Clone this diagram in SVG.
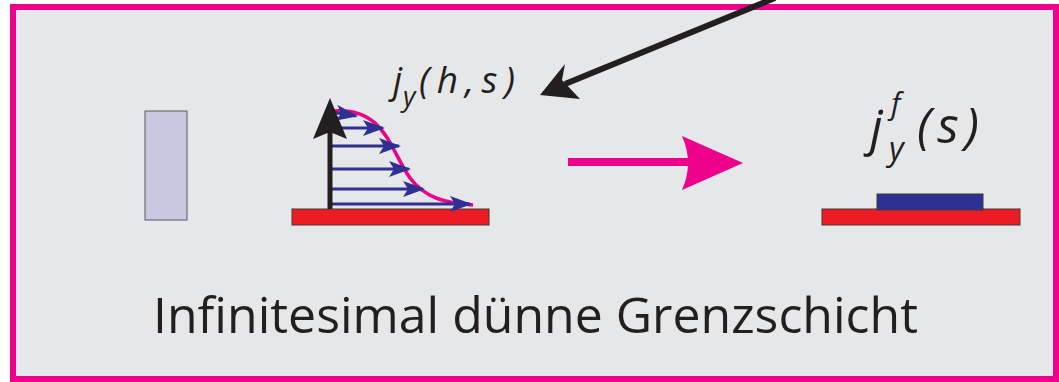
<svg xmlns="http://www.w3.org/2000/svg" width="1059" height="382" viewBox="0 0 1059 382">
<defs>
<style>
.lbl{font-family:"Open Sans","Liberation Sans",sans-serif;fill:#231f20}
.it{font-style:italic}
.plate{fill:#ed1c24;stroke:#3a3a3a;stroke-width:1}
.blue{stroke:#2e3192;stroke-width:3;fill:none}
</style>
<marker id="bh" markerUnits="userSpaceOnUse" markerWidth="22" markerHeight="16" refX="20" refY="8" orient="auto">
<path d="M0,0 L22,8 L0,16 L5,8 Z" fill="#2e3192"/>
</marker>
</defs>
<rect x="0" y="0" width="1059" height="382" fill="#ffffff"/>
<g id="frame"><rect x="13" y="7" width="1043" height="372" fill="#e6e7e8" stroke="#ec008c" stroke-width="6"/></g>
<g id="bar"><rect x="145" y="111" width="42" height="109" fill="#c9c8e3" stroke="#58595b" stroke-width="1"/></g>
<g id="profile">
<rect class="plate" x="292" y="209" width="197" height="16"/>
<path d="M333,111 C385,107 390,150 410,178 C425,198 445,203 473,205" fill="none" stroke="#ec008c" stroke-width="3.5"/>
<line class="blue" x1="331" y1="112" x2="356" y2="116" marker-end="url(#bh)"/>
<line class="blue" x1="331" y1="128" x2="383" y2="128" marker-end="url(#bh)"/>
<line class="blue" x1="331" y1="146" x2="399" y2="146" marker-end="url(#bh)"/>
<line class="blue" x1="331" y1="169" x2="409" y2="169" marker-end="url(#bh)"/>
<line class="blue" x1="331" y1="189" x2="423" y2="189" marker-end="url(#bh)"/>
<line class="blue" x1="331" y1="204" x2="470" y2="204" marker-end="url(#bh)"/>
<line x1="330" y1="209" x2="330" y2="130" stroke="#231f20" stroke-width="5"/>
<path d="M330,98 L347,139 L330,132 L313,139 Z" fill="#231f20"/>
<text class="lbl it" x="393" y="93" font-size="36">j</text>
<text class="lbl it" x="403" y="106" font-size="27">y</text>
<text class="lbl it" x="419" y="93" font-size="37" textLength="96" lengthAdjust="spacing">(h,s)</text>
</g>
<g id="result">
<rect class="plate" x="822" y="209" width="198" height="16"/>
<rect x="877" y="194" width="106" height="16" fill="#2e3192" stroke="#3a3a3a" stroke-width="1"/>
<text class="lbl it" x="870" y="145" font-size="50">j</text>
<text class="lbl it" x="891" y="114" font-size="30">f</text>
<text class="lbl it" x="889" y="160" font-size="32">y</text>
<text class="lbl it" x="917" y="143" font-size="50" textLength="62" lengthAdjust="spacing">(s)</text>
</g>
<g id="connectors">
<line x1="775" y1="-2" x2="565" y2="84" stroke="#231f20" stroke-width="6"/>
<path d="M540,95 L565,64 L562,80 L580,99 Z" fill="#231f20"/>
<line x1="568" y1="162" x2="692" y2="162" stroke="#ec008c" stroke-width="8"/>
<path d="M682,136 L743,163 L682,190 Q694,163 682,136 Z" fill="#ec008c"/>
</g>
<text class="lbl" x="153" y="333" font-size="50" textLength="765" lengthAdjust="spacingAndGlyphs">Infinitesimal dünne Grenzschicht</text>
</svg>
